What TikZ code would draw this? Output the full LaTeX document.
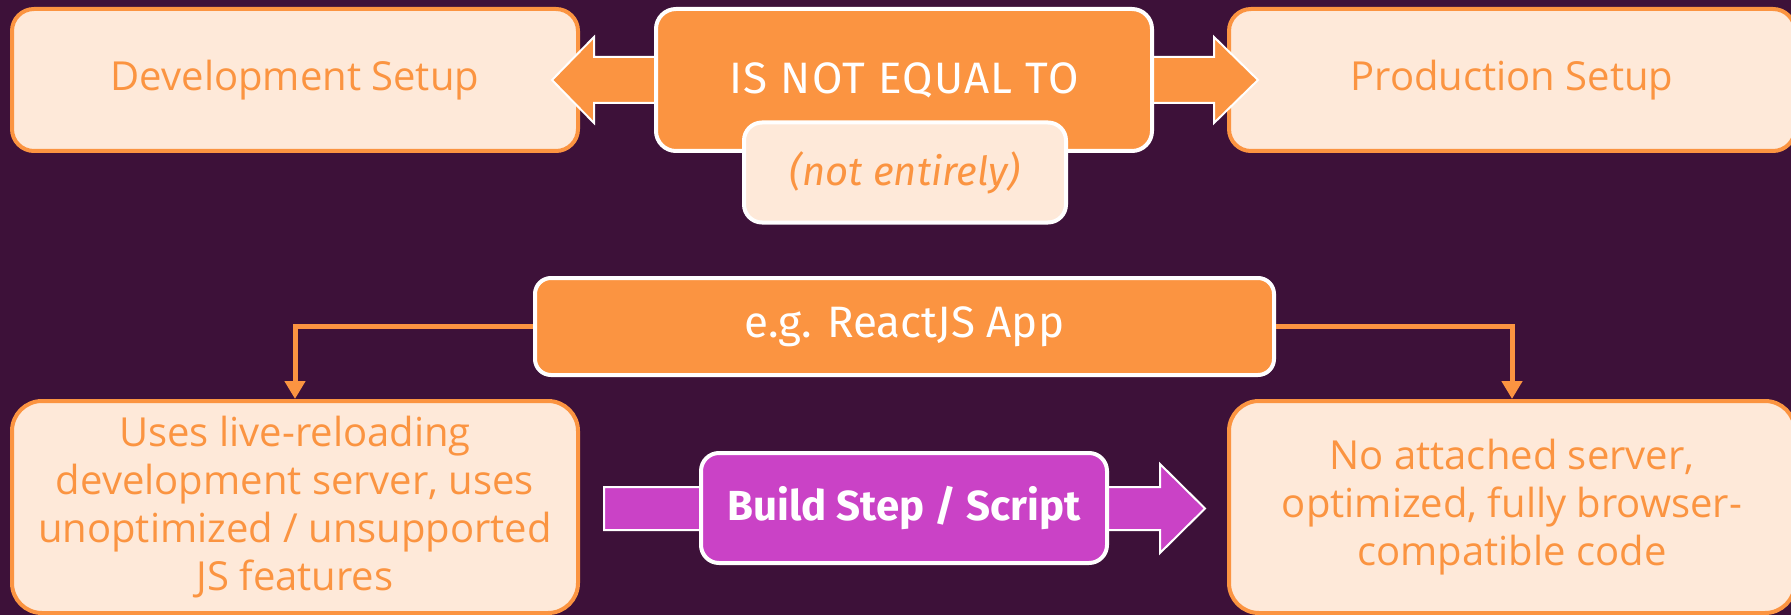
\documentclass[tikz,border=0pt]{standalone}
\usepackage{fontspec}
\setmainfont{Open Sans}
\newfontfamily\fira{Fira Sans}
\usetikzlibrary{arrows.meta}
\definecolor{bgc}{HTML}{3D1139}
\definecolor{org}{HTML}{FB9441}
\definecolor{peach}{HTML}{FEE9D9}
\definecolor{mag}{HTML}{CA42C6}
\tikzset{
  lightbox/.style={draw=org, fill=peach, line width=4pt, rounded corners=22pt, text=org, align=center, inner sep=0pt, font=\fontsize{40}{48}\selectfont},
  darkbox/.style={draw=white, fill=org, line width=4pt, rounded corners=20pt, text=white, align=center, inner sep=0pt, font=\fira\fontsize{44}{50}\selectfont},
  blockarrow/.style={draw=white, line width=2pt, line join=miter},
  conn/.style={draw=org, line width=5pt, -{Triangle[length=18pt,width=20pt]}}
}
\begin{document}
\begin{tikzpicture}[x=1pt,y=-1pt]
\fill[bgc] (0,0) rectangle (1791,615);
\useasboundingbox (0,0) rectangle (1791,615);
% top row
\node[lightbox, minimum width=566pt, minimum height=142pt] (dev) at (295,80) {Development Setup};
\node[lightbox, minimum width=566pt, minimum height=142pt] (prod) at (1512,80) {Production Setup};
\filldraw[blockarrow, fill=org] (660,57) -- (594,57) -- (594,37) -- (552,80) -- (594,123) -- (594,103) -- (660,103) -- cycle;
\filldraw[blockarrow, fill=org] (1148,57) -- (1214,57) -- (1214,37) -- (1258,80) -- (1214,123) -- (1214,103) -- (1148,103) -- cycle;
\node[darkbox, minimum width=496pt, minimum height=142pt, font=\fira\fontsize{44}{50}\selectfont\addfontfeature{LetterSpace=3}] (neq) at (904,80) {IS NOT EQUAL TO};
\node[lightbox, draw=white, rounded corners=18pt, minimum width=322pt, minimum height=100pt, font=\fira\itshape\fontsize{40}{46}\selectfont] (noten) at (905,172.5) {(not entirely)};
% middle
\node[darkbox, rounded corners=16pt, minimum width=739pt, minimum height=97pt] (react) at (904.5,326.5) {e.g. ReactJS App};
% bottom
\node[lightbox, rounded corners=30pt, minimum width=566pt, minimum height=212pt] (devdesc) at (295,507) {Uses live-reloading\\development server, uses\\unoptimized / unsupported\\JS features};
\node[lightbox, rounded corners=30pt, minimum width=566pt, minimum height=212pt] (proddesc) at (1512,507) {No attached server,\\optimized, fully browser-\\compatible code};
\draw[conn] (react.west) -| (devdesc.north);
\draw[conn] (react.east) -| (proddesc.north);
\filldraw[blockarrow, fill=mag] (604,487) -- (1160,487) -- (1160,464) -- (1205,508.5) -- (1160,553) -- (1160,530) -- (604,530) -- cycle;
\node[darkbox, fill=mag, rounded corners=18pt, minimum width=406pt, minimum height=110pt, font=\fira\bfseries\fontsize{42}{48}\selectfont] (build) at (904,508) {Build Step / Script};
\end{tikzpicture}
\end{document}
